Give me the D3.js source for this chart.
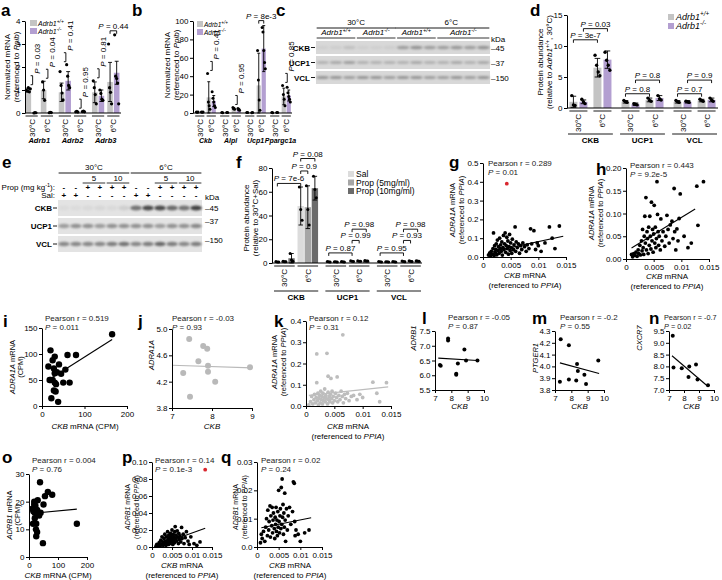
<!DOCTYPE html>
<html><head><meta charset="utf-8">
<script src="https://cdn.jsdelivr.net/npm/d3@7"></script>
<style>body{margin:0;background:#fff;}</style>
</head><body>
<script>
// ---------------- DATA ----------------
const temps = ["30°C", "6°C"];
// panel a  [gene][temp][genotype WT,KO]
const aGenes = ["Adrb1", "Adrb2", "Adrb3"];
const aMean = [[[1.0, 0.01], [1.0, 0.02]], [[0.9, 1.4], [0.05, 0.06]], [[0.9, 0.75], [1.35, 1.75]]];
const aSD = [[[0.08, 0.01], [0.38, 0.01]], [[0.4, 0.4], [0.02, 0.02]], [[0.45, 0.25], [0.85, 0.5]]];
const aPts = [
  [[[1.0, 0.95, 1.1, 0.92, 1.05], [0.0, 0.02, 0.01]], [[1.35, 1.0, 0.55], [0.01, 0.03, 0.02]]],
  [[[1.8, 1.2, 0.87, 0.57], [2.1, 1.6, 1.2, 1.1]], [[0.05, 0.07, 0.04], [0.06, 0.08, 0.05]]],
  [[[1.4, 1.1, 0.8, 0.4], [1.0, 0.85, 0.6, 0.55]], [[3.0, 1.1, 0.9, 0.4], [3.4, 1.6, 1.5, 1.3, 0.4]]]
];
const aP = [["P = 0.03", "P = 0.04"], ["P = 0.41", "P = 0.95"], ["P = 0.81", "P = 0.44"]];
// panel b
const bGenes = ["Ckb", "Alpl", "Ucp1", "Ppargc1a"];
const bMean = [[[1, 1], [17, 13]], [[0.5, 0.5], [5, 4]], [[0.5, 0.5], [30, 70]], [[0.5, 0.5], [18, 19]]];
const bSD = [[[0.2, 0.2], [17, 6]], [[0.2, 0.2], [1, 1]], [[0.2, 0.2], [35, 25]], [[0.2, 0.2], [9, 6]]];
const bPts = [
  [[[1.2, 0.9, 1.0], [1.1, 0.8, 1.0]], [[43, 12, 8, 4], [23, 16, 12, 8, 6]]],
  [[[0.6, 0.4], [0.5, 0.6]], [[6, 4.5, 4], [5, 3.5, 3]]],
  [[[0.5, 0.6], [0.4, 0.6]], [[68, 36, 14, 3], [93, 88, 68, 55, 48]]],
  [[[0.6, 0.4], [0.5, 0.5]], [[30, 20, 15, 8], [28, 22, 18, 15, 12]]]
];
const bP = [[null, "P = 0.41"], [null, "P = 0.95"], [null, "P = 8e-3"], [null, "P = 0.85"]];
// panel c (western blot band intensities, 13 lanes)
const cCKB = [0.05, 0.06, 0.12, 0.05, 0.05, 0.06, 0.3, 0.36, 0.3, 0.3, 0.33, 0.3, 0.36];
const cUCP1 = [0.2, 0.25, 0.3, 0.2, 0.2, 0.2, 0.2, 0.25, 0.2, 0.2, 0.25, 0.2, 0.25];
const cVCL = [0.35, 0.35, 0.3, 0.35, 0.35, 0.3, 0.35, 0.35, 0.3, 0.3, 0.35, 0.3, 0.35];
// panel d
const dProt = ["CKB", "UCP1", "VCL"];
const dMean = [[[1.0, 1.0], [6.5, 7.8]], [[1.0, 0.6], [1.3, 1.6]], [[1.0, 1.0], [1.2, 1.3]]];
const dSD = [[[0.9, 0.3], [1.5, 1.4]], [[0.2, 0.2], [0.3, 0.4]], [[0.2, 0.2], [0.2, 0.3]]];
const dPts = [
  [[[2.0, 0.5, 0.4], [1.4, 1.0, 0.7]], [[8.5, 6.9, 5.8, 5.2], [9.0, 7.7, 6.9, 6.1]]],
  [[[1.2, 1.0, 0.9], [0.7, 0.6, 0.5]], [[1.6, 1.2, 1.1], [2.0, 1.5, 1.3]]],
  [[[1.2, 1.0, 0.9], [1.1, 1.0, 0.9]], [[1.4, 1.2, 1.1], [1.6, 1.3, 1.1]]]
];
// panel e (12 lanes)
const eCKB = [0.04, 0.04, 0.05, 0.06, 0.05, 0.1, 0.55, 0.75, 0.75, 0.6, 0.55, 0.8];
const eUCP1 = [0.35, 0.4, 0.4, 0.35, 0.4, 0.4, 0.4, 0.4, 0.35, 0.4, 0.4, 0.45];
const eVCL = [0.45, 0.45, 0.45, 0.45, 0.5, 0.55, 0.45, 0.5, 0.6, 0.5, 0.45, 0.5];
const eProp = ["-", "-", "+", "+", "+", "+", "-", "-", "+", "+", "+", "+"];
const eSal = ["+", "+", "-", "-", "-", "-", "+", "+", "-", "-", "-", "-"];
const eDose = [[2, 3, "5"], [4, 5, "10"], [8, 9, "5"], [10, 11, "10"]];
// panel f [protein][temp][Sal, Prop5, Prop10]
const fSeries = ["Sal", "Prop (5mg/ml)", "Prop (10mg/ml)"];
const fMean = [[[1, 1.2, 4], [48, 47, 63]], [[1, 1, 1], [1.5, 1.6, 1.8]], [[1, 1, 1], [1.3, 1.5, 1.6]]];
const fSD = [[[0.3, 0.5, 4], [16, 18, 10]], [[0.2, 0.2, 0.2], [0.3, 0.3, 0.4]], [[0.2, 0.2, 0.2], [0.3, 0.3, 0.4]]];
const fPts = [
  [[[1.2, 0.9, 0.9], [1.5, 1.0, 1.1], [8, 2.5, 1.5]], [[64, 45, 36], [65, 45, 32], [73, 62, 55]]],
  [[[1.2, 1.0, 0.8], [1.1, 1.0, 0.9], [1.2, 1.0, 0.9]], [[1.8, 1.4, 1.3], [1.9, 1.5, 1.4], [2.1, 1.7, 1.6]]],
  [[[1.2, 1.0, 0.8], [1.1, 1.0, 0.9], [1.2, 1.0, 0.9]], [[1.6, 1.3, 1.1], [1.8, 1.5, 1.3], [1.9, 1.6, 1.4]]]
];
// scatter panels
const gPts = [[0.0010,0.010],[0.0012,0.020],[0.0014,0.005],[0.0015,0.030],[0.0017,0.015],[0.0018,0.045],[0.0019,0.128],[0.0020,0.008],[0.0021,0.060],[0.0022,0.025],[0.0023,0.040],[0.0024,0.070],[0.0025,0.012],[0.0026,0.090],[0.0027,0.035],[0.0028,0.055],[0.0029,0.020],[0.0030,0.100],[0.0031,0.045],[0.0032,0.065],[0.0033,0.030],[0.0034,0.080],[0.0035,0.010],[0.0036,0.050],[0.0037,0.115],[0.0038,0.040],[0.0039,0.070],[0.0040,0.128],[0.0041,0.025],[0.0042,0.060],[0.0043,0.105],[0.0044,0.045],[0.0045,0.085],[0.0046,0.015],[0.0047,0.055],[0.0048,0.120],[0.0049,0.035],[0.0050,0.075],[0.0051,0.050],[0.0052,0.020],[0.0053,0.095],[0.0055,0.040],[0.0056,0.065],[0.0058,0.160],[0.0059,0.030],[0.0060,0.080],[0.0062,0.050],[0.0064,0.070],[0.0066,0.020],[0.0068,0.060],[0.0070,0.040],[0.0072,0.075],[0.0075,0.055],[0.0078,0.030],[0.0080,0.065],[0.0083,0.045],[0.0086,0.150],[0.0088,0.070],[0.0092,0.140],[0.0095,0.040],[0.0098,0.075],[0.0100,0.060],[0.0105,0.030],[0.0112,0.075],[0.0120,0.160],[0.0125,0.100],[0.0130,0.045],[0.0138,0.165]];
const gRed = [0.0043, 0.39];
const gLine = [[0.001, 0.025], [0.0145, 0.11]];
const hPts = [[0.0010,0.010],[0.0012,0.005],[0.0014,0.012],[0.0016,0.008],[0.0018,0.015],[0.0020,0.006],[0.0022,0.020],[0.0023,0.012],[0.0025,0.030],[0.0026,0.009],[0.0028,0.040],[0.0029,0.018],[0.0030,0.065],[0.0031,0.025],[0.0032,0.010],[0.0033,0.050],[0.0034,0.094],[0.0035,0.035],[0.0036,0.135],[0.0037,0.020],[0.0038,0.060],[0.0039,0.045],[0.0040,0.012],[0.0041,0.070],[0.0042,0.030],[0.0043,0.094],[0.0044,0.050],[0.0045,0.022],[0.0046,0.125],[0.0047,0.040],[0.0048,0.065],[0.0049,0.015],[0.0050,0.055],[0.0051,0.118],[0.0052,0.035],[0.0053,0.070],[0.0054,0.025],[0.0055,0.045],[0.0056,0.170],[0.0057,0.098],[0.0058,0.060],[0.0059,0.030],[0.0060,0.050],[0.0062,0.020],[0.0063,0.088],[0.0065,0.040],[0.0067,0.060],[0.0070,0.028],[0.0072,0.050],[0.0074,0.096],[0.0076,0.065],[0.0078,0.035],[0.0080,0.075],[0.0083,0.083],[0.0085,0.045],[0.0087,0.155],[0.0088,0.060],[0.0090,0.020],[0.0092,0.066],[0.0094,0.040],[0.0096,0.089],[0.0098,0.143],[0.0105,0.050],[0.0112,0.025],[0.0118,0.035],[0.0128,0.160],[0.0130,0.074],[0.0140,0.170]];
const hLine = [[0.001, 0.024], [0.0125, 0.11]];
const iPts = [[20,107],[15,76],[25,88],[30,95],[28,72],[35,65],[40,80],[20,50],[25,50],[30,45],[33,42],[28,30],[22,15],[38,8],[45,62],[50,45],[55,70],[60,98],[65,45],[80,98],[165,138],[30,63],[18,50],[32,28]];
const iLine = [[15, 50], [165, 128]];
const jPts = [[7.43,4.85],[7.28,4.33],[7.45,3.97],[7.78,4.74],[7.88,4.70],[7.66,4.51],[7.9,4.44],[7.9,4.35],[8.08,4.2],[8.95,4.42]];
const jLine = [[7.0, 4.45], [9.0, 4.41]];
const kPts = [[0.0005,0.005],[0.0008,0.02],[0.0010,0.045],[0.0012,0.010],[0.0014,0.030],[0.0015,0.055],[0.0017,0.015],[0.0018,0.040],[0.0019,0.245],[0.0019,0.110],[0.0020,0.025],[0.0021,0.060],[0.0022,0.005],[0.0023,0.035],[0.0024,0.050],[0.0025,0.015],[0.0026,0.070],[0.0027,0.030],[0.0028,0.045],[0.0029,0.010],[0.0030,0.060],[0.0031,0.025],[0.0032,0.040],[0.0033,0.080],[0.0034,0.020],[0.0035,0.050],[0.0036,0.035],[0.0037,0.248],[0.0038,0.010],[0.0039,0.065],[0.0039,0.140],[0.0040,0.030],[0.0041,0.045],[0.0042,0.020],[0.0043,0.055],[0.0044,0.130],[0.0045,0.035],[0.0046,0.070],[0.0047,0.015],[0.0048,0.045],[0.0050,0.025],[0.0052,0.060],[0.0054,0.040],[0.0055,0.137],[0.0056,0.020],[0.0058,0.050],[0.0060,0.030],[0.0062,0.070],[0.0064,0.045],[0.0065,0.335],[0.0066,0.015],[0.0068,0.055],[0.0070,0.035],[0.0073,0.060],[0.0076,0.025],[0.0080,0.045],[0.0084,0.050],[0.0090,0.030],[0.0095,0.055],[0.0100,0.040],[0.0118,0.112],[0.0125,0.060],[0.0130,0.020],[0.0142,0.110]];
const kLine = [[0.0005, 0.05], [0.0145, 0.09]];
const lPts = [[7.3,6.35],[7.35,6.32],[7.8,7.25],[7.8,7.18],[8.3,6.05],[8.3,6.02],[8.4,6.4],[8.8,6.87],[8.9,6.5],[9.6,6.5]];
const lLine = [[7.2, 6.58], [9.6, 6.5]];
const mPts = [[7.3,3.87],[7.35,4.23],[7.85,3.89],[7.85,4.18],[8.3,3.88],[8.35,4.02],[8.4,3.96],[8.8,3.93],[8.9,3.85],[9.65,4.05]];
const mLine = [[7.3, 4.03], [9.7, 3.94]];
const nPts = [[7.25,9.3],[7.3,7.95],[7.85,7.92],[8.3,7.55],[8.35,8.0],[8.8,8.08],[8.9,7.45],[9.6,7.2]];
const nLine = [[7.2, 8.45], [9.6, 7.15]];
const oPts = [[38,27],[55,22],[65,23.5],[80,22.5],[50,19],[12,17.5],[18,19],[22,18.5],[15,16.5],[20,16],[28,17],[35,15],[30,15.5],[20,14],[25,12],[14,12],[24,10],[28,9],[25,7.5],[48,5],[165,12],[40,16],[18,20],[30,20.5]];
const oLine = [[15, 15.8], [165, 17.3]];
const pPts = [[0.0010,0.001],[0.0012,0.003],[0.0015,0.002],[0.0018,0.005],[0.0020,0.001],[0.0022,0.008],[0.0024,0.003],[0.0025,0.012],[0.0027,0.006],[0.0028,0.002],[0.0030,0.010],[0.0031,0.004],[0.0032,0.015],[0.0034,0.007],[0.0035,0.002],[0.0036,0.012],[0.0038,0.005],[0.0039,0.018],[0.0040,0.009],[0.0041,0.003],[0.0042,0.014],[0.0043,0.007],[0.0044,0.011],[0.0045,0.004],[0.0046,0.016],[0.0047,0.009],[0.0048,0.013],[0.0049,0.006],[0.0050,0.020],[0.0051,0.010],[0.0052,0.003],[0.0053,0.015],[0.0054,0.008],[0.0055,0.012],[0.0056,0.005],[0.0057,0.018],[0.0058,0.024],[0.0059,0.010],[0.0060,0.014],[0.0062,0.007],[0.0063,0.019],[0.0064,0.012],[0.0066,0.004],[0.0067,0.016],[0.0068,0.009],[0.0070,0.013],[0.0072,0.006],[0.0074,0.023],[0.0075,0.010],[0.0078,0.015],[0.0080,0.004],[0.0083,0.011],[0.0086,0.018],[0.0090,0.007],[0.0093,0.003],[0.0097,0.012],[0.0105,0.004],[0.0112,0.002],[0.0120,0.006]];
const pRed = [0.0133, 0.091];
const pLine = [[0.0015, 0.002], [0.0133, 0.022]];
const qPts = [[0.0008,0.0015],[0.0010,0.0045],[0.0012,0.0030],[0.0015,0.0055],[0.0018,0.0020],[0.0020,0.0070],[0.0022,0.0100],[0.0024,0.0040],[0.0025,0.0130],[0.0027,0.0060],[0.0028,0.0090],[0.0030,0.0145],[0.0031,0.0035],[0.0032,0.0110],[0.0034,0.0075],[0.0035,0.0140],[0.0036,0.0050],[0.0037,0.0095],[0.0038,0.0120],[0.0040,0.0065],[0.0041,0.0030],[0.0042,0.0105],[0.0043,0.0080],[0.0044,0.0140],[0.0045,0.0055],[0.0046,0.0095],[0.0047,0.0040],[0.0048,0.0125],[0.0049,0.0070],[0.0050,0.0200],[0.0051,0.0090],[0.0052,0.0050],[0.0053,0.0110],[0.0054,0.0135],[0.0055,0.0065],[0.0056,0.0210],[0.0057,0.0080],[0.0058,0.0240],[0.0059,0.0105],[0.0060,0.0150],[0.0061,0.0045],[0.0062,0.0120],[0.0063,0.0070],[0.0064,0.0190],[0.0065,0.0095],[0.0066,0.0020],[0.0068,0.0135],[0.0070,0.0060],[0.0072,0.0110],[0.0075,0.0140],[0.0078,0.0080],[0.0082,0.0125],[0.0084,0.0230],[0.0086,0.0225],[0.0087,0.0090],[0.0088,0.0040],[0.0090,0.0060],[0.0095,0.0045],[0.0100,0.0020],[0.0110,0.0050],[0.0120,0.0060]];
const qLine = [[0.001, 0.0068], [0.0125, 0.0103]];
const stats = {g:["0.289","0.01"],h:["0.443","9.2e-5"],i:["0.519","0.011"],j:["-0.03","0.93"],k:["0.12","0.31"],l:["-0.05","0.87"],m:["-0.2","0.55"],n:["-0.7","0.02"],o:["0.004","0.76"],p:["0.14","0.1e-3"],q:["0.02","0.24"]};
const xMrna = [0, 0.005, 0.01, 0.015];

// ---------------- HELPERS ----------------
const FONT = '"Liberation Sans", Arial, Helvetica, sans-serif';
const FS = 8;
const colWT = "#c4c4c4", colKO = "#b39fd1";
const fCols = ["#dcdcdc", "#a6a6a6", "#6b6b6b"];
const svg = d3.select("body").append("svg").attr("width", 722).attr("height", 580).style("font-family", FONT);
svg.append("defs").append("filter").attr("id", "bl").attr("x", "-50%").attr("y", "-50%").attr("width", "200%").attr("height", "200%")
  .append("feGaussianBlur").attr("stdDeviation", 0.9);

function rich(t, parts, fs) {
  let prevSup = false;
  parts.forEach(p => {
    if (typeof p === "string") p = {t: p};
    const ts = t.append("tspan").text(p.t);
    if (p.i) ts.attr("font-style", "italic");
    if (p.b) ts.attr("font-weight", "bold");
    if (p.sup) { ts.attr("font-size", fs * 0.7); if (!prevSup) ts.attr("dy", -fs * 0.4); }
    else if (prevSup) ts.attr("dy", fs * 0.4);
    prevSup = !!p.sup;
  });
}
function T(x, y, parts, o = {}) {
  const fs = o.fs || FS;
  const t = svg.append("text").attr("x", x).attr("y", y).attr("font-size", fs).attr("text-anchor", o.anchor || "start").attr("fill", o.fill || "#000");
  if (o.rot) t.attr("transform", `rotate(${o.rot},${x},${y})`);
  if (o.b) t.attr("font-weight", "bold");
  if (o.i) t.attr("font-style", "italic");
  rich(t, Array.isArray(parts) ? parts : [parts], fs);
  return t;
}
function L(x1, y1, x2, y2, w = 0.9, c = "#000") {
  svg.append("line").attr("x1", x1).attr("y1", y1).attr("x2", x2).attr("y2", y2).attr("stroke", c).attr("stroke-width", w);
}
function styleAxis(g) {
  g.attr("font-family", FONT).attr("font-size", FS);
  g.selectAll("path.domain").attr("stroke", "#000").attr("stroke-width", 1);
  g.selectAll(".tick line").attr("stroke", "#000").attr("stroke-width", 1);
  g.selectAll(".tick text").attr("fill", "#000");
}
function yAx(sc, x, ticks, fmt) {
  const g = svg.append("g").attr("transform", `translate(${x},0)`)
    .call(d3.axisLeft(sc).tickValues(ticks).tickFormat(fmt || (d => d)).tickSize(3).tickSizeOuter(0).tickPadding(1.5));
  styleAxis(g);
}
function xAx(sc, y, ticks, fmt) {
  const g = svg.append("g").attr("transform", `translate(0,${y})`)
    .call(d3.axisBottom(sc).tickValues(ticks).tickFormat(fmt || (d => d)).tickSize(3).tickSizeOuter(0).tickPadding(2));
  styleAxis(g);
}
function letter(x, y, s) { T(x, y, s, {fs: 17, b: true}); }
function yLab(yc, lines, fs) { lines.forEach(([x, parts]) => T(x, yc, parts, {anchor: "middle", rot: -90, fs: fs || FS})); }
function hBr(x1, x2, yb, text) {
  svg.append("path").attr("d", `M${x1},${yb + 3}V${yb}H${x2}V${yb + 3}`).attr("fill", "none").attr("stroke", "#000").attr("stroke-width", 0.9);
  T((x1 + x2) / 2, yb - 2, [{t: "P", i: true}, text.slice(1)], {anchor: "middle"});
}
function vBr(x, yb, text) {
  svg.append("path").attr("d", `M${x - 2},${yb}H${x}V${yb - 9}H${x - 2}`).attr("fill", "none").attr("stroke", "#000").attr("stroke-width", 0.9);
  T(x + 7, yb - 11, [{t: "P", i: true}, text.slice(1)], {rot: -90});
}
const geno = (s) => [{t: "Adrb1", i: true}, {t: s, i: true, sup: true}];

function barPanel(c) {
  const y = d3.scaleLinear().domain(c.yd).range([c.B, c.T]);
  const nc = c.cats.length, ns = c.colors.length;
  const xc = d3.scaleBand().domain(d3.range(nc)).range([c.X0, c.X1]).paddingInner(c.cp).paddingOuter(0);
  const xt = d3.scaleBand().domain([0, 1]).range([0, xc.bandwidth()]).paddingInner(c.tp).paddingOuter(c.tpo);
  const xs = d3.scaleBand().domain(d3.range(ns)).range([0, xt.bandwidth()]).paddingInner(c.sp);
  const bw = xs.bandwidth();
  const X = (ci, ti, si) => xc(ci) + xt(ti) + xs(si) + bw / 2;
  const TC = (ci, ti) => xc(ci) + xt(ti) + xt.bandwidth() / 2;
  const g = svg.append("g");
  c.mean.forEach((cm, ci) => cm.forEach((tm, ti) => tm.forEach((m, si) => {
    const cx = X(ci, ti, si);
    g.append("rect").attr("x", cx - bw / 2).attr("y", y(m)).attr("width", bw).attr("height", Math.max(0, c.B - y(m))).attr("fill", c.colors[si]);
  })));
  c.mean.forEach((cm, ci) => cm.forEach((tm, ti) => tm.forEach((m, si) => {
    const cx = X(ci, ti, si), s = c.sd[ci][ti][si];
    const y1 = y(Math.max(0, m - s)), y2 = y(m + s), cw = bw * 0.35;
    g.append("path").attr("d", `M${cx},${y1}V${y2}M${cx - cw},${y2}H${cx + cw}M${cx - cw},${y1}H${cx + cw}`)
      .attr("stroke", "#000").attr("stroke-width", 0.9).attr("fill", "none");
    const pts = c.pts[ci][ti][si], n = pts.length;
    pts.forEach((v, k) => g.append("circle").attr("cx", cx + (k - (n - 1) / 2) * c.jit).attr("cy", y(v)).attr("r", c.r).attr("fill", "#000"));
  })));
  yAx(y, c.L, c.yt);
  L(c.L, c.B, c.X1, c.B, 1);
  for (let ci = 0; ci < nc; ci++) {
    for (let ti = 0; ti < 2; ti++) {
      const x0 = xc(ci) + xt(ti);
      L(x0, c.B + 3, x0 + xt.bandwidth(), c.B + 3);
      T(TC(ci, ti) + 3, c.B + 6, temps[ti], {anchor: "end", rot: -90});
    }
    if (c.catLine) L(xc(ci) + 1, c.catLine, xc(ci) + xc.bandwidth() - 1, c.catLine);
    T(xc(ci) + xc.bandwidth() / 2, c.catY, c.cats[ci], {anchor: "middle", b: true, i: c.catItalic, fs: c.catFs || FS});
  }
  return {X, TC, y};
}

function scatter(c) {
  const x = d3.scaleLinear().domain(c.xd).range([c.L, c.R]);
  const y = d3.scaleLinear().domain(c.yd).range([c.B, c.T]);
  svg.append("g").selectAll("circle").data(c.pts).join("circle")
    .attr("cx", d => x(d[0])).attr("cy", d => y(d[1])).attr("r", c.r).attr("fill", c.col || "#000");
  if (c.red) svg.append("circle").attr("cx", x(c.red[0])).attr("cy", y(c.red[1])).attr("r", c.r).attr("fill", "#d9262e");
  svg.append("line").attr("x1", x(c.line[0][0])).attr("y1", y(c.line[0][1])).attr("x2", x(c.line[1][0])).attr("y2", y(c.line[1][1]))
    .attr("stroke", c.lcol || "#000").attr("stroke-width", 1.1);
  yAx(y, c.L, c.yt, c.yf); xAx(x, c.B, c.xt, c.xf);
  const sf = c.sfs || FS;
  T(c.sx, c.sy, "Pearson r = " + c.st[0], {fill: "#222", fs: sf});
  T(c.sx, c.sy + 9, [{t: "P", i: true}, " = " + c.st[1]], {fill: "#222", fs: sf});
}
const ref2 = ["(referenced to ", {t: "PPIA", i: true}, ")"];
const ckbM = [{t: "CKB", i: true}, " mRNA"];

// ---------------- PANEL a ----------------
letter(1, 16, "a");
const A = barPanel({L: 25, X0: 24, X1: 121, T: 21, B: 113, yd: [0, 4], yt: [0, 1, 2, 3, 4], cats: aGenes, colors: [colWT, colKO],
  mean: aMean, sd: aSD, pts: aPts, cp: 0.08, tp: 0.2, tpo: 0.1, sp: 0.15, jit: 1.0, r: 1.6, catY: 143, catItalic: true, catFs: 7.5});
aP.forEach((row, ci) => row.forEach((p, ti) => {
  const top = d3.max([0, 1], si => Math.max(aMean[ci][ti][si] + aSD[ci][ti][si], d3.max(aPts[ci][ti][si])));
  if (ci === 2 && ti === 1) hBr(A.X(ci, ti, 0), A.X(ci, ti, 1), A.y(top) - 4, p);
  else vBr(A.TC(ci, ti) + 1, A.y(top) - 3, p);
}));
yLab(67, [[10, "Normalized mRNA"], [19, ["(referenced to ", {t: "Ppib", i: true}, ")"]]]);
svg.append("rect").attr("x", 30).attr("y", 20).attr("width", 7).attr("height", 6).attr("fill", colWT);
svg.append("rect").attr("x", 30).attr("y", 28).attr("width", 7).attr("height", 6).attr("fill", colKO);
T(38, 26, geno("+/+"), {fs: 7}); T(38, 34, geno("-/-"), {fs: 7});

// ---------------- PANEL b ----------------
letter(132, 16, "b");
const Bp = barPanel({L: 193, X0: 194, X1: 292, T: 21, B: 113, yd: [0, 100], yt: [0, 20, 40, 60, 80, 100], cats: bGenes, colors: [colWT, colKO],
  mean: bMean, sd: bSD, pts: bPts, cp: 0.08, tp: 0.2, tpo: 0.1, sp: 0.15, jit: 0.8, r: 1.5, catY: 143, catItalic: true, catFs: 7});
bP.forEach((row, ci) => row.forEach((p, ti) => {
  if (!p) return;
  const top = d3.max([0, 1], si => Math.max(bMean[ci][ti][si] + bSD[ci][ti][si], d3.max(bPts[ci][ti][si])));
  if (ci === 2) hBr(Bp.X(ci, ti, 0), Bp.X(ci, ti, 1), Bp.y(top) - 5, p);
  else vBr(Bp.TC(ci, ti) + 1, Bp.y(top) - 3, p);
}));
yLab(65, [[170, "Normalized mRNA"], [179, ["(referenced to ", {t: "Ppib", i: true}, ")"]]]);
svg.append("rect").attr("x", 197).attr("y", 21).attr("width", 6).attr("height", 6).attr("fill", colWT);
svg.append("rect").attr("x", 197).attr("y", 29).attr("width", 6).attr("height", 6).attr("fill", colKO);
T(204, 27, geno("+/+"), {fs: 6.5}); T(204, 35, geno("-/-"), {fs: 6.5});

// ---------------- PANEL c (blot) ----------------
function blot(x0, x1, rows, nl, bg) {
  const xl = d3.scaleBand().domain(d3.range(nl)).range([x0, x1]).paddingInner(0.12).paddingOuter(0.05);
  rows.forEach(r => {
    svg.append("rect").attr("x", x0).attr("y", r.y0).attr("width", x1 - x0).attr("height", r.y1 - r.y0).attr("fill", bg);
    r.v.forEach((v, i) => svg.append("ellipse").attr("cx", xl(i) + xl.bandwidth() / 2).attr("cy", (r.y0 + r.y1) / 2)
      .attr("rx", xl.bandwidth() / 2 + 0.5).attr("ry", r.h).attr("fill", d3.interpolateRgb(bg, "#1a1a1a")(v)).attr("filter", "url(#bl)"));
    T(x0 - 6, (r.y0 + r.y1) / 2 + 3, r.name, {anchor: "end", b: true});
    L(x0 - 5, (r.y0 + r.y1) / 2, x0 - 1, (r.y0 + r.y1) / 2);
  });
  return xl;
}
letter(276, 16, "c");
const cx = blot(316, 490, [{y0: 41, y1: 54, v: cCKB, h: 1.8, name: "CKB"}, {y0: 56, y1: 69, v: cUCP1, h: 1.6, name: "UCP1"}, {y0: 71, y1: 84, v: cVCL, h: 1.6, name: "VCL"}], 13, "#d8d8d8");
const cMid = (a, b) => (cx(a) + cx(b) + cx.bandwidth()) / 2;
T(cMid(0, 5), 25, "30°C", {anchor: "middle"}); L(cx(0), 28, cx(5) + cx.bandwidth(), 28);
T(cMid(6, 12) + 8, 25, "6°C", {anchor: "middle"}); L(cx(6) - 2, 28, cx(12) + cx.bandwidth(), 28);
[[0, 2, "+/+"], [3, 5, "-/-"], [6, 8, "+/+"], [9, 12, "-/-"]].forEach(([a, b, s]) => {
  T(cMid(a, b), 35, geno(s), {anchor: "middle"}); L(cx(a), 38, cx(b) + cx.bandwidth(), 38, 0.8);
});
T(491, 42, "kDa"); T(491, 51, "–45"); T(491, 66, "–37"); T(491, 81, "–150");

// ---------------- PANEL d ----------------
letter(530, 16, "d");
const D = barPanel({L: 567, X0: 567, X1: 718, T: 15, B: 108, yd: [0, 15], yt: [0, 5, 10, 15], cats: dProt, colors: [colWT, colKO],
  mean: dMean, sd: dSD, pts: dPts, cp: 0.1, tp: 0.25, tpo: 0.1, sp: 0.2, jit: 1.6, r: 1.7, catY: 143, catLine: 134});
hBr(D.X(0, 0, 0), D.X(0, 1, 0), D.y(11), "P = 3e-7");
hBr(D.X(0, 0, 1), D.X(0, 1, 1), D.y(12.8), "P = 0.03");
hBr(D.X(1, 0, 0), D.X(1, 1, 0), D.y(2.3), "P = 0.8");
hBr(D.X(1, 0, 1), D.X(1, 1, 1), D.y(4.5), "P = 0.8");
hBr(D.X(2, 0, 0), D.X(2, 1, 0), D.y(2.3), "P = 0.7");
hBr(D.X(2, 0, 1), D.X(2, 1, 1), D.y(4.5), "P = 0.9");
yLab(62, [[543, "Protein abundance"], [552, ["(relative to ", {t: "Adrb1", i: true}, {t: "+/+", i: true, sup: true}, ", 30°C)"]]]);
svg.append("rect").attr("x", 668).attr("y", 14).attr("width", 6).attr("height", 6).attr("fill", colWT);
svg.append("rect").attr("x", 668).attr("y", 23).attr("width", 6).attr("height", 6).attr("fill", colKO);
T(676, 20, geno("+/+"), {fs: 9}); T(676, 29, geno("-/-"), {fs: 9});

// ---------------- PANEL e (blot) ----------------
letter(2, 168, "e");
const ex = blot(58, 202, [{y0: 200, y1: 216, v: eCKB, h: 2.6, name: "CKB"}, {y0: 218, y1: 234, v: eUCP1, h: 2.2, name: "UCP1"}, {y0: 236, y1: 252, v: eVCL, h: 2.2, name: "VCL"}], 12, "#e3e3e3");
const eMid = (a, b) => (ex(a) + ex(b) + ex.bandwidth()) / 2;
T(eMid(0, 5), 170, "30°C", {anchor: "middle"}); L(ex(0), 173, ex(5) + ex.bandwidth(), 173);
T(eMid(6, 11), 170, "6°C", {anchor: "middle"}); L(ex(6), 173, ex(11) + ex.bandwidth(), 173);
eDose.forEach(([a, b, s]) => { T(eMid(a, b), 181, s, {anchor: "middle"}); L(ex(a), 183, ex(b) + ex.bandwidth(), 183, 0.8); });
eProp.forEach((s, i) => T(ex(i) + ex.bandwidth() / 2, 190, s, {anchor: "middle", b: true}));
eSal.forEach((s, i) => T(ex(i) + ex.bandwidth() / 2, 198, s, {anchor: "middle", b: true}));
T(55, 190, ["Prop (mg kg", {t: "-1", sup: true}, "):"], {anchor: "end"});
T(55, 198, "Sal:", {anchor: "end"});
T(205, 200, "kDa"); T(205, 211, "–45"); T(205, 224, "–37"); T(205, 243, "–150");

// ---------------- PANEL f ----------------
letter(236, 168, "f");
const F = barPanel({L: 272, X0: 273, X1: 422, T: 168, B: 263, yd: [0, 80], yt: [0, 20, 40, 60, 80], cats: dProt, colors: fCols,
  mean: fMean, sd: fSD, pts: fPts, cp: 0.1, tp: 0.12, tpo: 0.05, sp: 0.1, jit: 1.4, r: 1.5, catY: 300, catLine: 291});
hBr(F.X(0, 0, 0), F.X(0, 1, 0), F.y(67), "P = 7e-6");
hBr(F.X(0, 1, 0), F.X(0, 1, 1), F.y(77.5), "P = 0.9");
hBr(F.X(0, 1, 0), F.X(0, 1, 2), F.y(88), "P = 0.08");
[1, 2].forEach(ci => {
  hBr(F.X(ci, 0, 0), F.X(ci, 1, 0), F.y(8.5), ci === 1 ? "P = 0.87" : "P = 0.95");
  hBr(F.X(ci, 1, 0), F.X(ci, 1, 1), F.y(19), ci === 1 ? "P = 0.99" : "P = 0.93");
  hBr(F.X(ci, 1, 0), F.X(ci, 1, 2), F.y(28.5), "P = 0.98");
});
yLab(218, [[249, "Protein abundance"], [258, "(relative to 30°C+Sal)"]]);
fSeries.forEach((s, i) => {
  svg.append("rect").attr("x", 348).attr("y", 171 + i * 8.5).attr("width", 6).attr("height", 6).attr("fill", fCols[i]);
  T(356, 177 + i * 8.5, s, {fs: 8.5});
});

// ---------------- SCATTERS ----------------
const f1 = d => d.toFixed(1), f2 = d => d.toFixed(2);
const YF = 7.5;
letter(449, 168, "g");
scatter({L: 483, R: 566, T: 163, B: 257, xd: [0, 0.015], yd: [0, 0.5], xt: xMrna, yt: [0, 0.1, 0.2, 0.3, 0.4, 0.5], yf: f1,
  pts: gPts, red: gRed, line: gLine, r: 1.9, st: stats.g, sx: 488, sy: 166});
yLab(210, [[455, [{t: "ADRA1A", i: true}, " mRNA"]], [464, ref2]], YF);
T(525, 278, ckbM, {anchor: "middle"}); T(525, 288, ref2, {anchor: "middle"});

letter(596, 175, "h");
scatter({L: 626, R: 709, T: 168, B: 259, xd: [0, 0.015], yd: [0, 0.2], xt: xMrna, yt: [0, 0.05, 0.1, 0.15, 0.2], yf: f2,
  pts: hPts, line: hLine, r: 1.9, st: stats.h, sx: 630, sy: 168});
yLab(213, [[594, [{t: "ADRA1A", i: true}, " mRNA"]], [603, ref2]], YF);
T(667, 279, ckbM, {anchor: "middle"}); T(667, 289, ref2, {anchor: "middle"});

letter(3, 327, "i");
scatter({L: 42, R: 127, T: 328, B: 406, xd: [0, 200], yd: [0, 150], xt: [0, 100, 200], yt: [0, 50, 100, 150],
  pts: iPts, line: iLine, r: 3.2, st: stats.i, sx: 45, sy: 321});
yLab(367, [[15, [{t: "ADRA1A", i: true}, " mRNA"]], [23, "(CPM)"]], YF);
T(85, 429, [{t: "CKB", i: true}, " mRNA (CPM)"], {anchor: "middle"});

letter(138, 327, "j");
scatter({L: 172, R: 252, T: 329, B: 408, xd: [7, 9], yd: [3.8, 5.0], xt: [7, 8, 9], yt: [3.8, 4.2, 4.6, 5.0], yf: f1,
  pts: jPts, line: jLine, r: 3.0, col: "#b9b9b9", lcol: "#b9b9b9", st: stats.j, sx: 172, sy: 321});
yLab(355, [[154, {t: "ADRA1A", i: true}]], YF);
T(212, 429, {t: "CKB", i: true}, {anchor: "middle"});

letter(274, 327, "k");
scatter({L: 306, R: 391, T: 321, B: 406, xd: [0, 0.015], yd: [0, 0.4], xt: xMrna, yt: [0, 0.1, 0.2, 0.3, 0.4], yf: f1,
  pts: kPts, line: kLine, r: 1.9, col: "#bdbdbd", lcol: "#bdbdbd", st: stats.k, sx: 309, sy: 321});
yLab(362, [[277, [{t: "ADRA1A", i: true}, " mRNA"]], [286, ref2]], YF);
T(348, 429, ckbM, {anchor: "middle"}); T(348, 439, ref2, {anchor: "middle"});

const sm = [["l", 422, 435, 49, lPts, lLine, [5.5, 6.0, 6.5, 7.0, 7.5], [5.5, 7.5], "ADRB1", 416, 338, 448, 8],
            ["m", 532, 555, 49, mPts, mLine, [3.8, 3.9, 4.0, 4.1, 4.2, 4.3], [3.8, 4.3], "PTGER1", 538, 358, 560, 8],
            ["n", 649, 669, 45, nPts, nLine, [7.0, 7.5, 8.0, 8.5, 9.0, 9.5], [7.0, 9.5], "CXCR7", 642, 338, 664, 7.3]];
sm.forEach(([lt, lx, Lx, W, pts, ln, yt, yd, lab, labx, laby, sx, sfs]) => {
  letter(lx, 324, lt);
  scatter({L: Lx, R: Lx + W, T: 331, B: 390, xd: [7, 10], yd: yd, xt: [7, 8, 9, 10], yt: yt, yf: f1,
    pts: pts, line: ln, r: 2.0, st: stats[lt], sx: sx, sy: 320, sfs: sfs});
  yLab(laby, [[labx, {t: lab, i: true}]], YF);
  T(Lx + W / 2, 409, {t: "CKB", i: true}, {anchor: "middle"});
});

letter(2, 463, "o");
scatter({L: 29, R: 87, T: 474, B: 557, xd: [0, 200], yd: [0, 30], xt: [0, 100, 200], yt: [0, 10, 20, 30],
  pts: oPts, line: oLine, r: 3.2, st: stats.o, sx: 32, sy: 463});
yLab(515, [[12, [{t: "ADRB1", i: true}, " mRNA"]], [20, "(CPM)"]], YF);
T(58, 578, [{t: "CKB", i: true}, " mRNA (CPM)"], {anchor: "middle"});

letter(122, 463, "p");
scatter({L: 152, R: 212, T: 462, B: 547, xd: [0, 0.015], yd: [0, 0.1], xt: xMrna, yt: [0, 0.02, 0.04, 0.06, 0.08, 0.1],
  yf: d => d === 0 ? "0.0" : d.toFixed(2), pts: pPts, red: pRed, line: pLine, r: 1.9, st: stats.p, sx: 155, sy: 463});
yLab(507, [[130, [{t: "ADRB1", i: true}, " mRNA"]], [139, ref2]], 7);
T(182, 568, ckbM, {anchor: "middle"}); T(182, 578, ref2, {anchor: "middle"});

letter(221, 463, "q");
scatter({L: 257, R: 322, T: 462, B: 547, xd: [0, 0.015], yd: [0, 0.03], xt: xMrna, yt: [0, 0.01, 0.02, 0.03],
  yf: d => d === 0 ? "0.0" : d.toFixed(2), pts: qPts, line: qLine, r: 1.9, st: stats.q, sx: 261, sy: 463});
yLab(507, [[238, [{t: "ADRB1", i: true}, " mRNA"]], [247, ref2]], 7);
T(290, 568, ckbM, {anchor: "middle"}); T(290, 578, ref2, {anchor: "middle"});
</script>
</body></html>
